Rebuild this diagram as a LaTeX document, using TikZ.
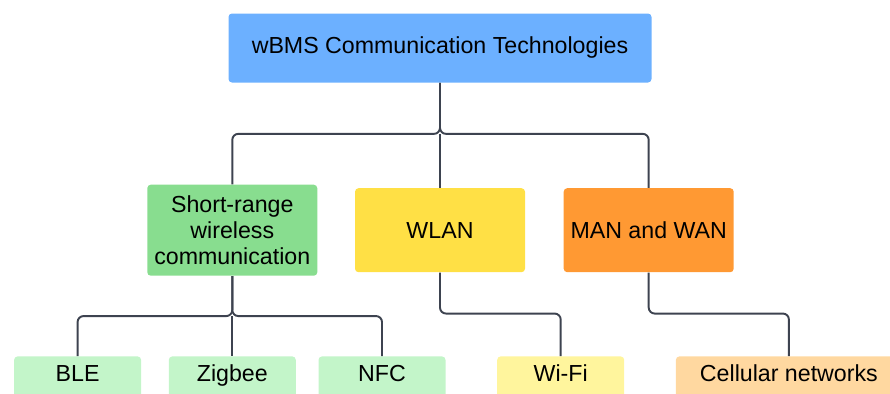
\documentclass[tikz,border=0pt]{standalone}
\usepackage{fontspec}
\setmainfont{Liberation Sans}
\usepackage{xcolor}
\usepackage{tikz}
\usetikzlibrary{shapes,positioning,calc}

\definecolor{rootblue}{HTML}{6CB0FF}
\definecolor{srgreen}{HTML}{88DD8F}
\definecolor{wlanyellow}{HTML}{FFE045}
\definecolor{manorange}{HTML}{FF9933}
\definecolor{leafgreen}{HTML}{C3F5C9}
\definecolor{leafyellow}{HTML}{FFF59D}
\definecolor{leaforange}{HTML}{FFD8A0}
\definecolor{linkgray}{HTML}{3D4350}

\begin{document}
\begin{tikzpicture}[
    box/.style={rectangle, rounded corners=0.07cm, align=center, inner sep=2pt, font=\fontsize{13.2}{14.8}\selectfont},
    midbox/.style={box, minimum width=3.4cm, minimum height=1.68cm},
    leafbox/.style={box, minimum width=2.54cm, minimum height=0.84cm, text height=0.72em, text depth=0.21em},
    link/.style={draw=linkgray, line width=1.1pt, rounded corners=0.12cm}]
    \useasboundingbox (0,0) rectangle (17.8,-7.88);
    \clip (0,0) rectangle (17.8,-7.88);

    \node[box, fill=rootblue, minimum width=8.46cm, minimum height=1.38cm] (root) at (8.8,-0.96) {wBMS Communication Technologies};
    \node[midbox, fill=wlanyellow, below=2.1cm of root] (wlan) {WLAN};
    \node[midbox, fill=srgreen, minimum height=1.82cm, left=0.74cm of wlan] (short) {Short-range\\wireless\\communication};
    \node[midbox, fill=manorange, right=0.76cm of wlan] (manwan) {MAN and WAN};

    \node[leafbox, fill=leafgreen, below=1.6cm of short] (zigbee) {Zigbee};
    \node[leafbox, fill=leafgreen, left=0.54cm of zigbee] (ble) {BLE};
    \node[leafbox, fill=leafgreen, right=0.44cm of zigbee] (nfc) {NFC};
    \node[leafbox, fill=leafyellow, right=1.02cm of nfc] (wifi) {Wi-Fi};
    \node[leafbox, fill=leaforange, minimum width=4.52cm, right=1.02cm of wifi] (cell) {Cellular networks};

    \coordinate[below=1.02cm of root.south] (rootjoin);
    \coordinate[below=0.8cm of short.south] (shortjoin);

    \draw[link] (root.south) -- (rootjoin) -| (short.north);
    \draw[link] (root.south) -- (rootjoin) -| (manwan.north);
    \draw[link] (rootjoin) -- (wlan.north);

    \draw[link] (short.south) -- (shortjoin) -| (ble.north);
    \draw[link] (short.south) -- (shortjoin) -| (nfc.north);
    \draw[link] (shortjoin) -- (zigbee.north);

    \draw[link] (wlan.south) -- ++(0,-0.82) -| (wifi.north);
    \draw[link] (manwan.south) -- ++(0,-0.82) -| (cell.north);
\end{tikzpicture}
\end{document}
